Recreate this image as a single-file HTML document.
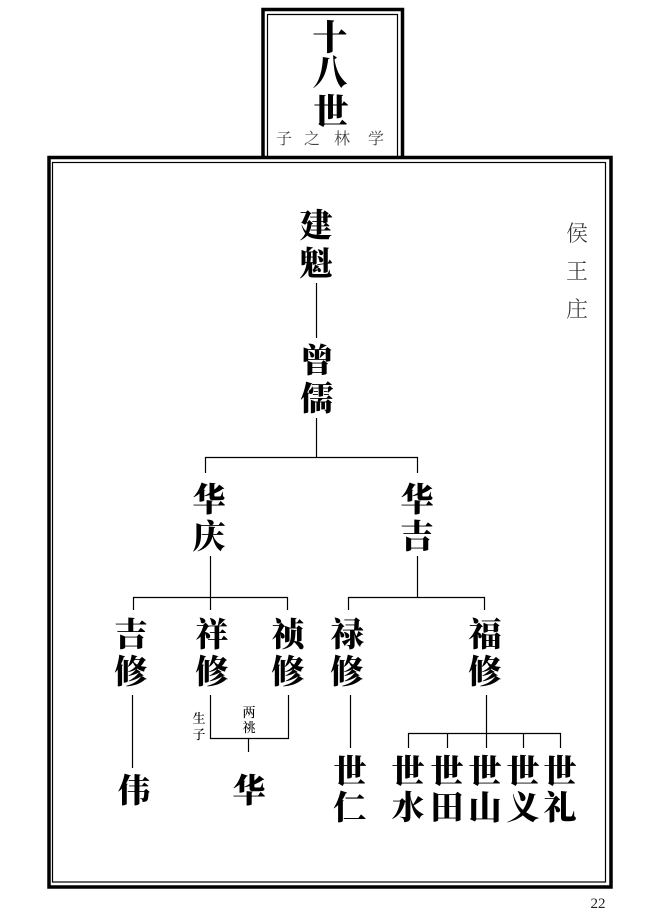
<!DOCTYPE html>
<html>
<head>
<meta charset="utf-8">
<style>
  html, body { margin:0; padding:0; background:#fff; }
  body { width:658px; height:915px; overflow:hidden; }
  svg { display:block; }
  .b { font-family: "Liberation Serif", "Noto Serif CJK SC", serif; font-weight:900; font-size:33px; fill:#000; text-anchor:middle; }
  .t { font-family: "Liberation Serif", "Noto Serif CJK SC", serif; font-weight:900; font-size:35px; fill:#000; text-anchor:middle; }
  .s { font-family: "Liberation Serif", "Noto Serif CJK SC", serif; font-weight:400; font-size:16px; fill:#444; text-anchor:middle; }
  .v { font-family: "Liberation Serif", "Noto Serif CJK SC", serif; font-weight:300; font-size:22px; fill:#333; text-anchor:middle; }
  .m { font-family: "Liberation Serif", "Noto Serif CJK SC", serif; font-weight:500; font-size:13px; fill:#000; text-anchor:middle; }
</style>
</head>
<body>
<svg width="658" height="915" viewBox="0 0 658 915" xmlns="http://www.w3.org/2000/svg">
  <rect x="0" y="0" width="658" height="915" fill="#fff"/>

  <!-- top title box -->
  <rect x="263" y="9.5" width="139.5" height="150" fill="none" stroke="#000" stroke-width="3.5"/>
  <polyline points="267.5,158 267.5,14.5 397.5,14.5 397.5,158" fill="none" stroke="#000" stroke-width="1.2"/>

  <!-- main frame -->
  <rect x="49" y="157.5" width="562" height="729.5" fill="#fff" stroke="#000" stroke-width="3.5"/>
  <rect x="52.5" y="162.5" width="553" height="719.5" fill="none" stroke="#000" stroke-width="1.2"/>

  <!-- title text -->
  <text class="t" x="330" y="50">十</text>
  <text class="t" x="330" y="85">八</text>
  <text class="t" x="331" y="124">世</text>
  <text class="s" x="284" y="144">子</text>
  <text class="s" x="312" y="144">之</text>
  <text class="s" x="342" y="144">林</text>
  <text class="s" x="376" y="144">学</text>

  <!-- place name -->
  <text class="v" x="577" y="241">侯</text>
  <text class="v" x="577" y="279">王</text>
  <text class="v" x="577" y="317">庄</text>

  <!-- connectors -->
  <g stroke="#000" stroke-width="1.2" fill="none">
    <line x1="316.5" y1="283" x2="316.5" y2="338"/>
    <line x1="316.5" y1="418" x2="316.5" y2="457.5"/>
    <line x1="205" y1="457.5" x2="418" y2="457.5"/>
    <line x1="205.5" y1="457" x2="205.5" y2="473"/>
    <line x1="417.5" y1="457" x2="417.5" y2="473"/>

    <line x1="210.5" y1="556" x2="210.5" y2="597.5"/>
    <line x1="133" y1="597.5" x2="288" y2="597.5"/>
    <line x1="133.5" y1="597" x2="133.5" y2="610"/>
    <line x1="210.5" y1="597" x2="210.5" y2="610"/>
    <line x1="287.5" y1="597" x2="287.5" y2="610"/>

    <line x1="417.5" y1="556" x2="417.5" y2="597.5"/>
    <line x1="348" y1="597.5" x2="485" y2="597.5"/>
    <line x1="348.5" y1="597" x2="348.5" y2="610"/>
    <line x1="484.5" y1="597" x2="484.5" y2="610"/>

    <line x1="132.5" y1="695" x2="132.5" y2="768"/>

    <line x1="210.5" y1="695" x2="210.5" y2="738.5"/>
    <line x1="288.5" y1="695" x2="288.5" y2="738.5"/>
    <line x1="210" y1="738.5" x2="289" y2="738.5"/>
    <line x1="248.5" y1="738" x2="248.5" y2="752"/>

    <line x1="350.5" y1="695" x2="350.5" y2="748"/>

    <line x1="486.5" y1="695" x2="486.5" y2="733.5"/>
    <line x1="408" y1="733.5" x2="561" y2="733.5"/>
    <line x1="408.5" y1="733" x2="408.5" y2="748"/>
    <line x1="447.5" y1="733" x2="447.5" y2="748"/>
    <line x1="486.5" y1="733" x2="486.5" y2="748"/>
    <line x1="523.5" y1="733" x2="523.5" y2="748"/>
    <line x1="560.5" y1="733" x2="560.5" y2="748"/>
  </g>

  <!-- names -->
  <text class="b" x="316" y="237">建</text>
  <text class="b" x="316" y="275">魁</text>
  <text class="b" x="317" y="372">曾</text>
  <text class="b" x="317" y="410">儒</text>

  <text class="b" x="209" y="511">华</text>
  <text class="b" x="209" y="548">庆</text>
  <text class="b" x="417" y="511">华</text>
  <text class="b" x="417" y="548">吉</text>

  <text class="b" x="131" y="646">吉</text>
  <text class="b" x="131" y="683">修</text>
  <text class="b" x="212" y="646">祥</text>
  <text class="b" x="212" y="683">修</text>
  <text class="b" x="288" y="646">祯</text>
  <text class="b" x="288" y="683">修</text>
  <text class="b" x="347" y="646">禄</text>
  <text class="b" x="347" y="683">修</text>
  <text class="b" x="485" y="646">福</text>
  <text class="b" x="485" y="683">修</text>

  <text class="m" x="199" y="723">生</text>
  <text class="m" x="199" y="739">子</text>
  <text class="m" x="249" y="717">两</text>
  <text class="m" x="249" y="732">祧</text>

  <text class="b" x="134" y="802">伟</text>
  <text class="b" x="249" y="802">华</text>

  <text class="b" x="350" y="783">世</text>
  <text class="b" x="350" y="819">仁</text>

  <text class="b" x="408" y="783">世</text>
  <text class="b" x="408" y="819">水</text>
  <text class="b" x="447" y="783">世</text>
  <text class="b" x="447" y="819">田</text>
  <text class="b" x="485" y="783">世</text>
  <text class="b" x="485" y="819">山</text>
  <text class="b" x="523" y="783">世</text>
  <text class="b" x="523" y="819">义</text>
  <text class="b" x="560" y="783">世</text>
  <text class="b" x="560" y="819">礼</text>

  <!-- page number -->
  <text x="598" y="908" font-family="Liberation Serif, serif" font-size="15" fill="#222" text-anchor="middle">22</text>
</svg>
</body>
</html>
